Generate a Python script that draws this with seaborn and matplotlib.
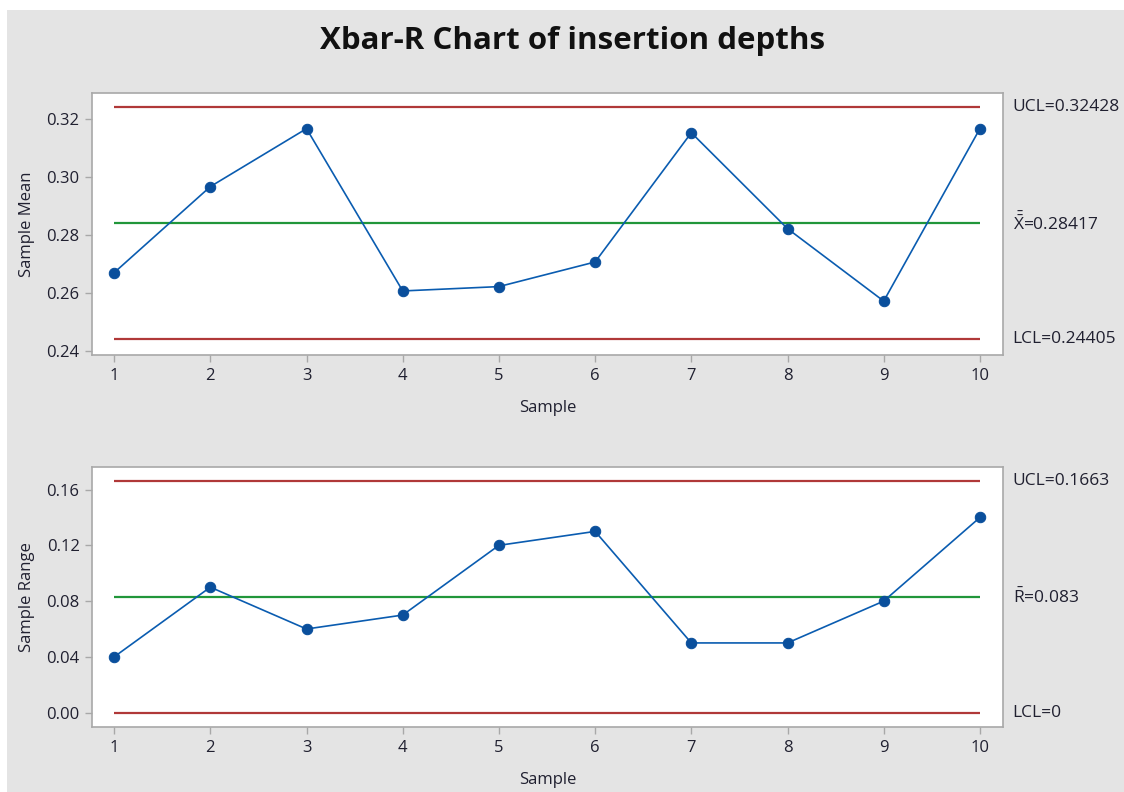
import matplotlib
matplotlib.use("Agg")
import matplotlib.pyplot as plt
import pandas as pd
import seaborn as sns

samples = [1, 2, 3, 4, 5, 6, 7, 8, 9, 10]
sample_means = [0.2670, 0.2967, 0.3167, 0.2607, 0.2622, 0.2707, 0.3153, 0.2822, 0.2572, 0.3167]
sample_ranges = [0.04, 0.09, 0.06, 0.07, 0.12, 0.13, 0.05, 0.05, 0.08, 0.14]

xbar_limits = {"UCL": 0.32428, "center": 0.28417, "LCL": 0.24405}
r_limits = {"UCL": 0.1663, "center": 0.083, "LCL": 0.0}

xbar_labels = ["UCL=0.32428", r"$\bar{\bar{\mathrm{X}}}$=0.28417", "LCL=0.24405"]
r_labels = ["UCL=0.1663", r"$\bar{\mathrm{R}}$=0.083", "LCL=0"]

BG = "#e4e4e4"
RED = "#b03838"
GREEN = "#21963a"
BLUE = "#0a5cb0"
SPINE = "#a8a8a8"
TEXT = "#202030"

sns.set_theme(style="white")
plt.rcParams["font.family"] = ["Open Sans", "DejaVu Sans"]
plt.rcParams["mathtext.fontset"] = "custom"
plt.rcParams["mathtext.rm"] = "Open Sans"
plt.rcParams["text.color"] = TEXT

fig = plt.figure(figsize=(11.24, 7.92), dpi=100, facecolor=BG)
# cropped white border of the screenshot
fig.patches.append(plt.Rectangle((0, 1 - 10 / 792), 1, 10 / 792, transform=fig.transFigure,
                                 facecolor="white", edgecolor="none", zorder=-1))
fig.patches.append(plt.Rectangle((0, 0), 7 / 1124, 1, transform=fig.transFigure,
                                 facecolor="white", edgecolor="none", zorder=-1))

W, H = 1124, 792
ax1 = fig.add_axes([92 / W, 1 - 355 / H, (1003 - 92) / W, (355 - 93) / H])
ax2 = fig.add_axes([92 / W, 1 - 727 / H, (1003 - 92) / W, (727 - 467) / H])

df = pd.DataFrame({"Sample": samples, "Mean": sample_means, "Range": sample_ranges})


def draw(ax, col, limits, labels, ylim, yticks, yfmt, ylabel):
    ax.set_facecolor("white")
    for key, color in [("UCL", RED), ("center", GREEN), ("LCL", RED)]:
        ax.hlines(limits[key], 1, 10, color=color, lw=1.6, zorder=2)
    sns.lineplot(data=df, x="Sample", y=col, ax=ax, color=BLUE, lw=1.2,
                 marker="o", markersize=7.5, markeredgecolor="#0a4f9c",
                 markerfacecolor="#0a4f9c", zorder=3)
    ax.set_xlim(0.77, 10.24)
    ax.set_ylim(*ylim)
    ax.set_xticks(samples)
    ax.set_yticks(yticks)
    ax.set_yticklabels([yfmt.format(v) for v in yticks])
    ax.tick_params(axis="both", which="major", direction="out", length=5, width=1,
                   color=SPINE, labelsize=12, labelcolor=TEXT, left=True, bottom=True, pad=4)
    for s in ax.spines.values():
        s.set_color(SPINE)
        s.set_linewidth(1.2)
    ax.set_xlabel("Sample", fontsize=12, color=TEXT, labelpad=12)
    ax.set_ylabel(ylabel, fontsize=12, color=TEXT, labelpad=8)
    for key, lab in zip(["UCL", "center", "LCL"], labels):
        ax.annotate(lab, xy=(1.0, limits[key]), xycoords=("axes fraction", "data"),
                    xytext=(7, 0), textcoords="offset points", ha="left", va="center",
                    fontsize=12.5, color=TEXT, annotation_clip=False)


draw(ax1, "Mean", xbar_limits, xbar_labels, (0.2386, 0.329),
     [0.24, 0.26, 0.28, 0.30, 0.32], "{:.2f}", "Sample Mean")
draw(ax2, "Range", r_limits, r_labels, (-0.0103, 0.1762),
     [0.00, 0.04, 0.08, 0.12, 0.16], "{:.2f}", "Sample Range")

fig.text(573 / W, 1 - 41 / H, "Xbar-R Chart of insertion depths", ha="center", va="center",
         fontsize=22.5, fontweight="bold", color="#111111")

fig.savefig("out.png", dpi=100, facecolor=BG)
